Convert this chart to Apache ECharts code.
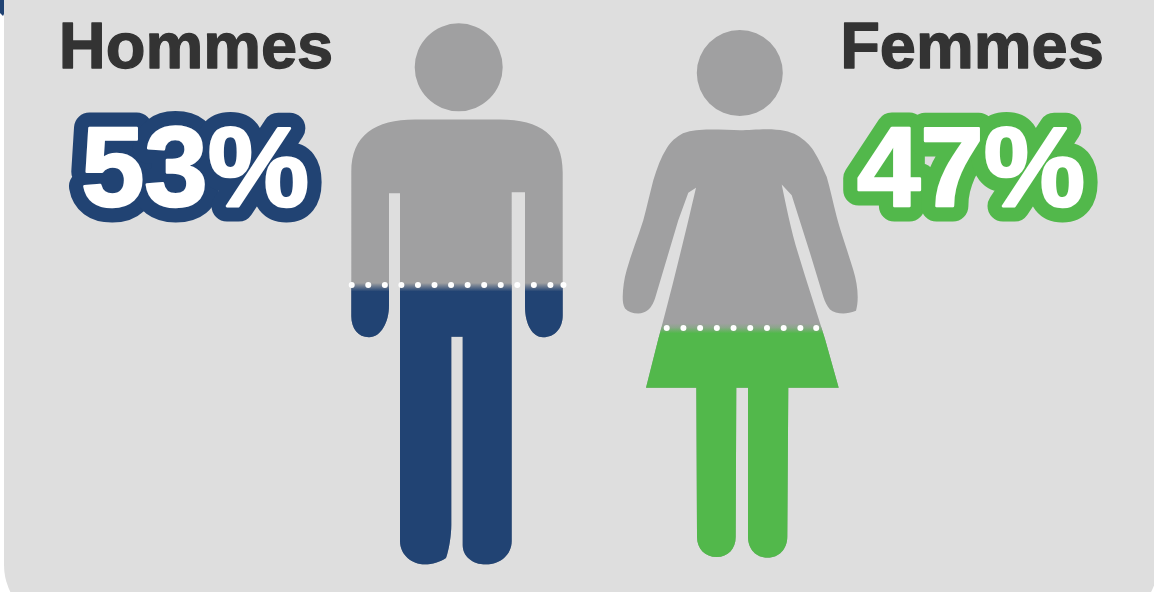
<!DOCTYPE html>
<html lang="fr">
<head>
<meta charset="utf-8">
<style>
  html, body { margin: 0; padding: 0; background: #ffffff; }
  #chart { width: 1154px; height: 592px; }
</style>
<script src="https://cdn.jsdelivr.net/npm/echarts@6/dist/echarts.min.js"></script>
</head>
<body>
<div id="chart"></div>
<script>
// Répartition hommes / femmes, en pourcentage
const groups = ['Hommes', 'Femmes'];
const shares = [53, 47];

// Hauteur totale de chaque silhouette, dans l'unité de son axe
const figureScale = [102.63, 107.65];

const BLUE = '#214373';
const GREEN = '#52b84b';
const GREY = '#a0a0a1';
const PANEL = '#dedede';
const INK = '#333333';

const manPath = 'path://M414.7 67A44 44 0 1 1 502.7 67A44 44 0 1 1 414.7 67Z' +
  'M415 119.3L500 119.3C540 119.3 562.7 135 562.7 172L562.7 315C562.7 328 555 337 543 337' +
  'C533 337 525 325 525 306L525 192L511.7 192L511.7 541C511.7 555 500 564.5 486 564.5' +
  'C472 564.5 462.7 556 462.7 545L462.7 336.7L451.3 336.7L451.3 525C451.3 535 449 550 446 558' +
  'C440 562 432 564.5 425 564.5C412 564.5 400 555 400 541L400 193L389 193L389 305' +
  'C389 322 381 337 369 337C358 337 351.3 328 351.3 316L351.3 172C351.3 135 375 119.3 415 119.3Z';

const womanPath = 'path://M696.8 72.8A43 43 0 1 1 782.8 72.8A43 43 0 1 1 696.8 72.8Z' +
  'M710 129.3C722 129.3 732 130 740 130C748 130 756 129 767 129C780 129 790 131 797 135' +
  'C805 140 810 145 813.3 150C820 161 823 168 826.7 176.7C830 188 833 202 836.7 216.7' +
  'C841 233 848 252 853.3 270C856 279 857.7 288 857.7 297C857.7 303 857 307 856 310.7' +
  'C851 312.5 847 313.3 843.3 313.3C838 313.3 833 312 830 309.3C827 306 825 302 823.3 296.7' +
  'L810 253L791.7 195L781.7 184.3C786 205 791 230 798 253C807 283 816 310 825 339' +
  'L838.7 387.7L788.3 387.7L787.3 536.7C787.3 549 779 557.7 767.7 557.7C756 557.7 748 549 748 536.7' +
  'L748 387.7L736.3 387.7L735.7 536.7C735.7 549 728 557 716.7 557C705 557 697 549 697 536.7' +
  'L696.3 387.7L646 387.7L658.3 339C670 297 685 235 696 187.7L688.3 192.7L678.3 220' +
  'L655 298.3C653 304 651 307 648 310C645 312.5 642 313.3 638.3 313.3C633 313.3 628 311.5 625 308.3' +
  'C623 305 622.7 301 622.7 296.7C623 288 624 279 626.7 270C631 254 638 237 643.3 220' +
  'C647 206 650 193 653.3 180C657 168 661 157 666.7 148C671 141 676 137 683 133C692 130 700 129.3 710 129.3Z';

// Une grille par silhouette : sa hauteur couvre la figure entière
const grids = [
  { left: 351.3, top: 23.3, width: 211.4, height: 541.2 },
  { left: 622.7, top: 30, width: 235, height: 527.7 }
];
const paths = [manPath, womanPath];
const colors = [BLUE, GREEN];
const blends = [{ above: 2, below: 6.5 }, { above: 4, below: 6 }];
const dotLines = [
  { from: 351.7, to: 563.6, gaps: [16.55, 16.55, 16.55, 16.55, 16.55, 16.55, 16.55, 16.55, 16.55, 16.55, 16.55, 16.55, 13] },
  { from: 666.7, to: 816.4, gaps: [16.7, 16.7, 16.7, 16.7, 16.7, 16.7, 16.7, 16.7, 15.8] }
];

// Contour arrondi pour les grands pourcentages, chiffres légèrement engraissés
const strokeTextBase = CanvasRenderingContext2D.prototype.strokeText;
const fillTextBase = CanvasRenderingContext2D.prototype.fillText;
CanvasRenderingContext2D.prototype.strokeText = function () {
  this.lineJoin = 'round';
  this.lineCap = 'round';
  return strokeTextBase.apply(this, arguments);
};
CanvasRenderingContext2D.prototype.fillText = function () {
  fillTextBase.apply(this, arguments);
  if (this.lineWidth > 20) {
    const outline = this.lineWidth;
    const outlineColor = this.strokeStyle;
    this.lineWidth = 2.6;
    this.strokeStyle = this.fillStyle;
    strokeTextBase.apply(this, arguments);
    this.lineWidth = outline;
    this.strokeStyle = outlineColor;
  }
};

// Fondu de part et d'autre du niveau atteint par la valeur
function hexMix(a, b, t) {
  const p = (h, i) => parseInt(h.substr(1 + i * 2, 2), 16);
  const c = [0, 1, 2].map((i) => Math.round(p(a, i) + (p(b, i) - p(a, i)) * t));
  return 'rgb(' + c.join(',') + ')';
}
function baseFill(i) {
  const level = 1 - shares[i] / figureScale[i];
  const start = level - blends[i].above / grids[i].height;
  return new echarts.graphic.LinearGradient(0, 0, 0, 1, [
    { offset: 0, color: GREY },
    { offset: start, color: GREY },
    { offset: level, color: hexMix(GREY, colors[i], 0.25) },
    { offset: 1, color: hexMix(GREY, colors[i], 0.25) }
  ]);
}
function valueFill(i) {
  const level = 1 - shares[i] / figureScale[i];
  const end = level + blends[i].below / grids[i].height;
  return new echarts.graphic.LinearGradient(0, 0, 0, 1, [
    { offset: 0, color: hexMix(GREY, colors[i], 0.25) },
    { offset: level, color: hexMix(GREY, colors[i], 0.25) },
    { offset: end, color: colors[i] },
    { offset: 1, color: colors[i] }
  ]);
}
function dash(gaps) {
  const out = [];
  gaps.forEach((g) => out.push(0.01, g));
  return out;
}

const series = [];
groups.forEach((name, i) => {
  series.push({
    name: name + ' (silhouette)',
    type: 'pictorialBar',
    xAxisIndex: i,
    yAxisIndex: i,
    symbol: paths[i],
    symbolSize: [grids[i].width, '100%'],
    symbolPosition: 'start',
    symbolBoundingData: figureScale[i],
    itemStyle: { color: baseFill(i) },
    silent: true,
    z: 2,
    data: [figureScale[i]]
  });
  series.push({
    name: name,
    type: 'pictorialBar',
    xAxisIndex: i,
    yAxisIndex: i,
    symbol: paths[i],
    symbolSize: [grids[i].width, '100%'],
    symbolPosition: 'start',
    symbolClip: true,
    symbolBoundingData: figureScale[i],
    itemStyle: { color: valueFill(i) },
    silent: true,
    z: 3,
    data: [shares[i]],
    markLine: {
      silent: true,
      symbol: 'none',
      animation: false,
      label: { show: false },
      lineStyle: { color: '#ffffff', width: 6, cap: 'round', type: dash(dotLines[i].gaps), opacity: 1 },
      data: [[
        { x: dotLines[i].from, yAxis: shares[i] },
        { x: dotLines[i].to, yAxis: shares[i] }
      ]]
    }
  });
});

function heading(text, cx) {
  return {
    type: 'text', z: 10,
    style: {
      text: text, x: cx, y: 50, fill: INK,
      stroke: INK, lineWidth: 1.3,
      font: 'bold 65px "Liberation Sans", Arial, sans-serif',
      align: 'center', verticalAlign: 'middle'
    }
  };
}
function share(value, cx, color) {
  return {
    type: 'text', z: 10,
    style: {
      text: value + '%', x: cx, y: 175, fill: '#ffffff',
      stroke: color, lineWidth: 31, strokeFirst: true,
      font: 'bold 114px "Liberation Sans", Arial, sans-serif',
      align: 'center', verticalAlign: 'middle'
    }
  };
}

const chart = echarts.init(document.getElementById('chart'), null, { renderer: 'canvas' });
chart.setOption({
  animation: false,
  backgroundColor: '#ffffff',
  grid: grids,
  xAxis: groups.map((name, i) => ({ type: 'category', gridIndex: i, data: [name], show: false })),
  yAxis: groups.map((name, i) => ({ type: 'value', gridIndex: i, min: 0, max: figureScale[i], show: false })),
  series: series,
  graphic: [
    { type: 'rect', z: -10, silent: true, shape: { x: 4, y: -60, width: 1153.5, height: 685, r: 60 }, style: { fill: PANEL } },
    { type: 'polygon', z: -9, silent: true, shape: { points: [[0, 0], [4, 0], [4, 14], [3, 16], [0, 13]] }, style: { fill: BLUE } },
    heading(groups[0], 196),
    heading(groups[1], 972),
    share(shares[0], 195, BLUE),
    share(shares[1], 971, GREEN)
  ]
});
</script>
</body>
</html>
